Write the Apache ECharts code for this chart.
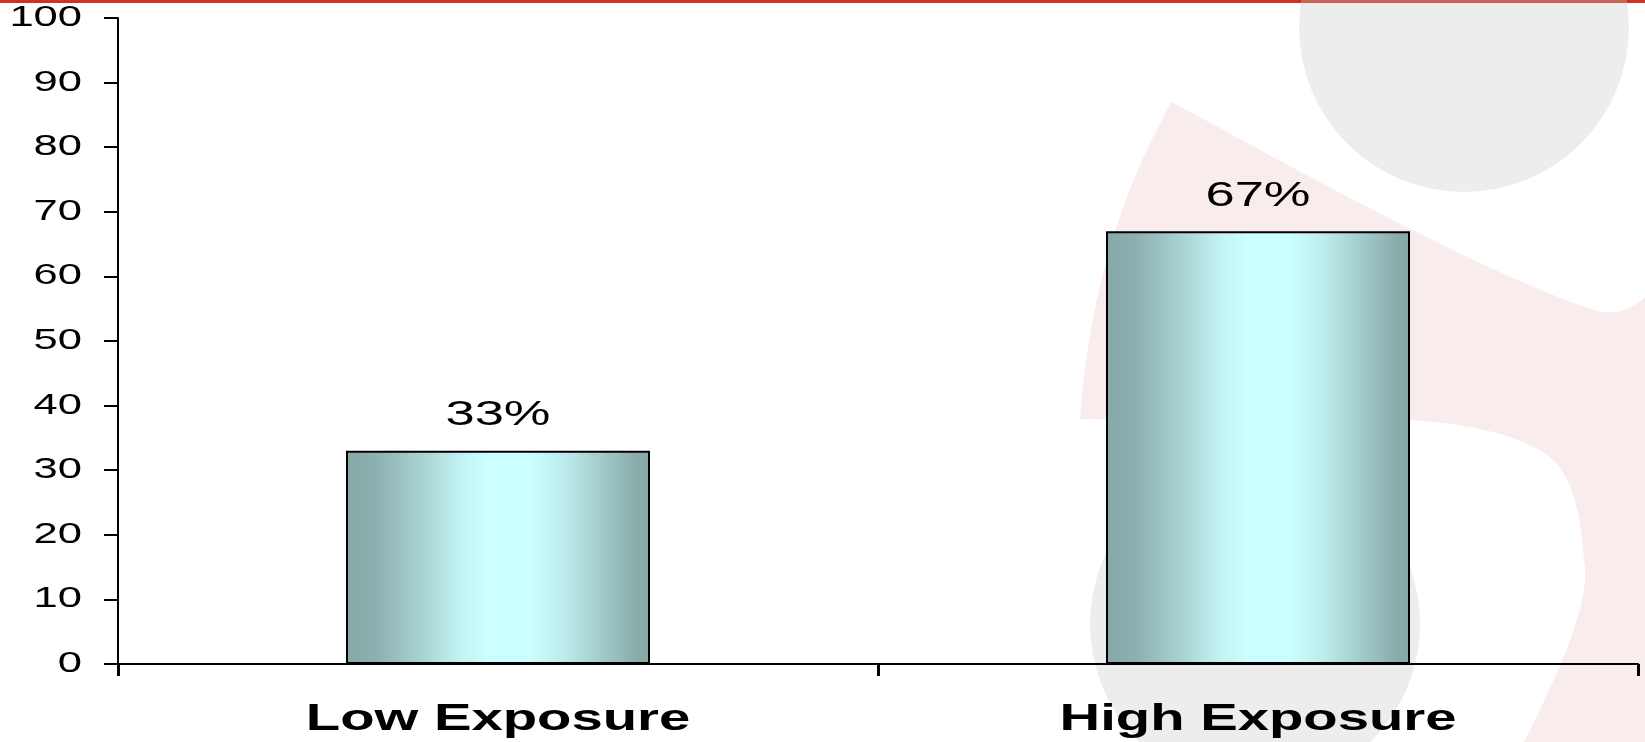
<!DOCTYPE html>
<html>
<head>
<meta charset="utf-8">
<script src="https://cdn.jsdelivr.net/npm/echarts@6/dist/echarts.min.js"></script>
<style>
  html, body { margin: 0; padding: 0; background: #ffffff; }
  #chart { width: 1645px; height: 742px; }
</style>
</head>
<body>
<div id="chart"></div>
<script>
// Chart data
const categories = ['Low Exposure', 'High Exposure'];
const values = [33, 67];
const yTicks = [0, 10, 20, 30, 40, 50, 60, 70, 80, 90, 100];

const FONT = '"Liberation Sans", Arial, sans-serif';
const STRETCH = 1.5; // text is drawn horizontally widened

// Sample a cubic bezier into polygon points (used for the backdrop logo)
function cubic(p0, c1, c2, p1, n) {
  const pts = [];
  for (let i = 1; i <= n; i++) {
    const t = i / n, u = 1 - t;
    pts.push([
      u * u * u * p0[0] + 3 * u * u * t * c1[0] + 3 * u * t * t * c2[0] + t * t * t * p1[0],
      u * u * u * p0[1] + 3 * u * u * t * c1[1] + 3 * u * t * t * c2[1] + t * t * t * p1[1]
    ]);
  }
  return pts;
}

// Pale pink swoosh behind the right half of the plot
const swoosh = [[1172, 102]]
  .concat(cubic([1172, 102], [1300, 172], [1500, 282], [1598, 311], 30))
  .concat(cubic([1598, 311], [1620, 316], [1636, 306], [1645, 297], 8))
  .concat([[1645, 742], [1524, 742]])
  .concat(cubic([1524, 742], [1560, 670], [1592, 600], [1584, 560], 16))
  .concat(cubic([1584, 560], [1580, 510], [1572, 470], [1543, 452], 12))
  .concat(cubic([1543, 452], [1510, 432], [1460, 423], [1410, 420], 12))
  .concat([[1080, 419]])
  .concat(cubic([1080, 419], [1088, 310], [1115, 200], [1172, 102], 30));

const barGradient = new echarts.graphic.LinearGradient(0, 0, 1, 0, [
  { offset: 0.00, color: '#86A9A8' },
  { offset: 0.10, color: '#8DB1B0' },
  { offset: 0.25, color: '#A9D3D3' },
  { offset: 0.38, color: '#C3F3F3' },
  { offset: 0.47, color: '#CCFFFF' },
  { offset: 0.60, color: '#CCFFFF' },
  { offset: 0.72, color: '#BCEBEB' },
  { offset: 0.85, color: '#A0C8C8' },
  { offset: 0.95, color: '#8BAEAD' },
  { offset: 1.00, color: '#86A9A8' }
]);

// Text drawn with a horizontal stretch, anchored at a point from the axes
function stretchedText(x, y, text, font, align) {
  return {
    type: 'text',
    x: x,
    y: y,
    scaleX: STRETCH,
    silent: true,
    style: {
      x: 0, y: 0,
      text: text,
      font: font,
      fill: '#000000',
      textAlign: align, align: align,
      textVerticalAlign: 'middle', verticalAlign: 'middle'
    }
  };
}

const chart = echarts.init(document.getElementById('chart'), null, { renderer: 'canvas' });

chart.setOption({
  animation: false,
  backgroundColor: '#ffffff',
  graphic: [
    { type: 'polygon', z: -10, z2: 0, silent: true,
      shape: { points: swoosh }, style: { fill: '#F9ECEC' } },
    { type: 'rect', z: -10, z2: 1, silent: true,
      shape: { x: 0, y: 0, width: 1645, height: 3 }, style: { fill: '#CC3326' } },
    { type: 'circle', z: -10, z2: 2, silent: true,
      shape: { cx: 1464, cy: 27, r: 165 }, style: { fill: 'rgba(200,200,200,0.32)' } },
    { type: 'circle', z: -10, z2: 2, silent: true,
      shape: { cx: 1255, cy: 624, r: 165 }, style: { fill: 'rgba(200,200,200,0.32)' } }
  ],
  grid: { left: 118, right: 7, top: 18, bottom: 78, containLabel: false },
  xAxis: {
    type: 'category',
    data: categories,
    axisLine: { lineStyle: { color: '#000000', width: 2 } },
    axisTick: { show: true, inside: false, length: 12, lineStyle: { color: '#000000', width: 3 } },
    axisLabel: { show: false },
    splitLine: { show: false }
  },
  yAxis: {
    type: 'value',
    min: 0, max: 100, interval: 10,
    axisLine: { show: true, lineStyle: { color: '#000000', width: 2 } },
    axisTick: { show: true, inside: false, length: 14, lineStyle: { color: '#000000', width: 2 } },
    axisLabel: { show: false },
    splitLine: { show: false }
  },
  series: [
    {
      type: 'bar',
      data: values,
      barWidth: '40%',
      z: 2,
      itemStyle: { color: barGradient, borderColor: '#000000', borderWidth: 2 },
      emphasis: { disabled: true }
    },
    {
      // value tick labels on the y axis
      type: 'custom',
      silent: true,
      z: 4,
      data: yTicks.map(v => [0, v]),
      renderItem: function (params, api) {
        const p = api.coord([api.value(0), api.value(1)]);
        const half = api.size([1, 0])[0] / 2;
        return stretchedText(p[0] - half - 36, p[1], String(api.value(1)),
          '29px ' + FONT, 'right');
      }
    },
    {
      // percentage labels above the bars
      type: 'custom',
      silent: true,
      z: 4,
      data: values.map((v, i) => [i, v]),
      renderItem: function (params, api) {
        const v = api.value(1);
        const p = api.coord([api.value(0), v]);
        return stretchedText(p[0], p[1] - 35, v + '%', '35px ' + FONT, 'center');
      }
    },
    {
      // category names below the axis
      type: 'custom',
      silent: true,
      z: 4,
      data: categories.map((c, i) => [i, 0]),
      renderItem: function (params, api) {
        const i = api.value(0);
        const p = api.coord([i, 0]);
        return stretchedText(p[0], p[1] + 56, categories[i], 'bold 37.5px ' + FONT, 'center');
      }
    }
  ]
});
</script>
</body>
</html>
